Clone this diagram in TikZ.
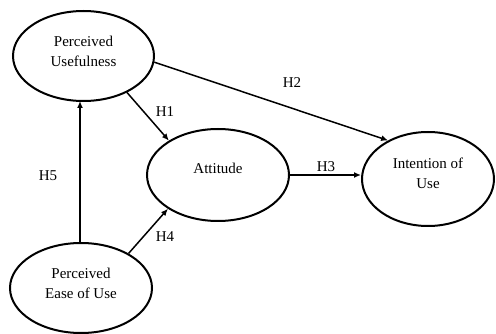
\documentclass[tikz,border=0pt]{standalone}
\usepackage{fontspec}
\setmainfont{Liberation Serif}
\usetikzlibrary{arrows.meta,shapes.geometric}
\begin{document}
\begin{tikzpicture}[x=1pt,y=-1pt,
  ell/.style={draw,ellipse,line width=2pt,inner sep=0pt},
  txt/.style={align=center,font=\fontsize{15}{20}\selectfont,inner sep=0pt},
  lbl/.style={font=\fontsize{15}{18}\selectfont,inner sep=0pt},
  arr/.style={line width=1.5pt,-{Latex[length=7pt,width=6pt]}}]
\useasboundingbox (0,0) rectangle (496,334);
\node[ell,minimum width=141pt,minimum height=90pt] (pu) at (83.5,56) {};
\node[ell,minimum width=142pt,minimum height=92pt] (att) at (218,175) {};
\node[ell,minimum width=132pt,minimum height=94pt] (iou) at (428,179) {};
\node[ell,minimum width=142pt,minimum height=90pt] (peu) at (81,288) {};
\node[txt] (tpu) at (83.5,51) {Perceived\\Usefulness};
\node[txt] (tatt) at (218,168) {Attitude};
\node[txt] (tiou) at (428,173) {Intention of\\Use};
\node[txt] (tpeu) at (81,283) {Perceived\\Ease of Use};
\draw[arr] (pu.-40) -- (att.145);
\draw[arr] (pu.-5) -- (iou.136);
\draw[arr] (att.east) -- (att.east -| iou.west);
\draw[arr] (peu.36) -- (att.214);
\draw[arr] (peu.north -| 80,0) -- (80,101);
\node[lbl] (h1) at (165,112) {H1};
\node[lbl] (h2) at (292,83) {H2};
\node[lbl] (h3) at (326,167) {H3};
\node[lbl] (h4) at (165,237) {H4};
\node[lbl] (h5) at (48,176) {H5};
\end{tikzpicture}
\end{document}
